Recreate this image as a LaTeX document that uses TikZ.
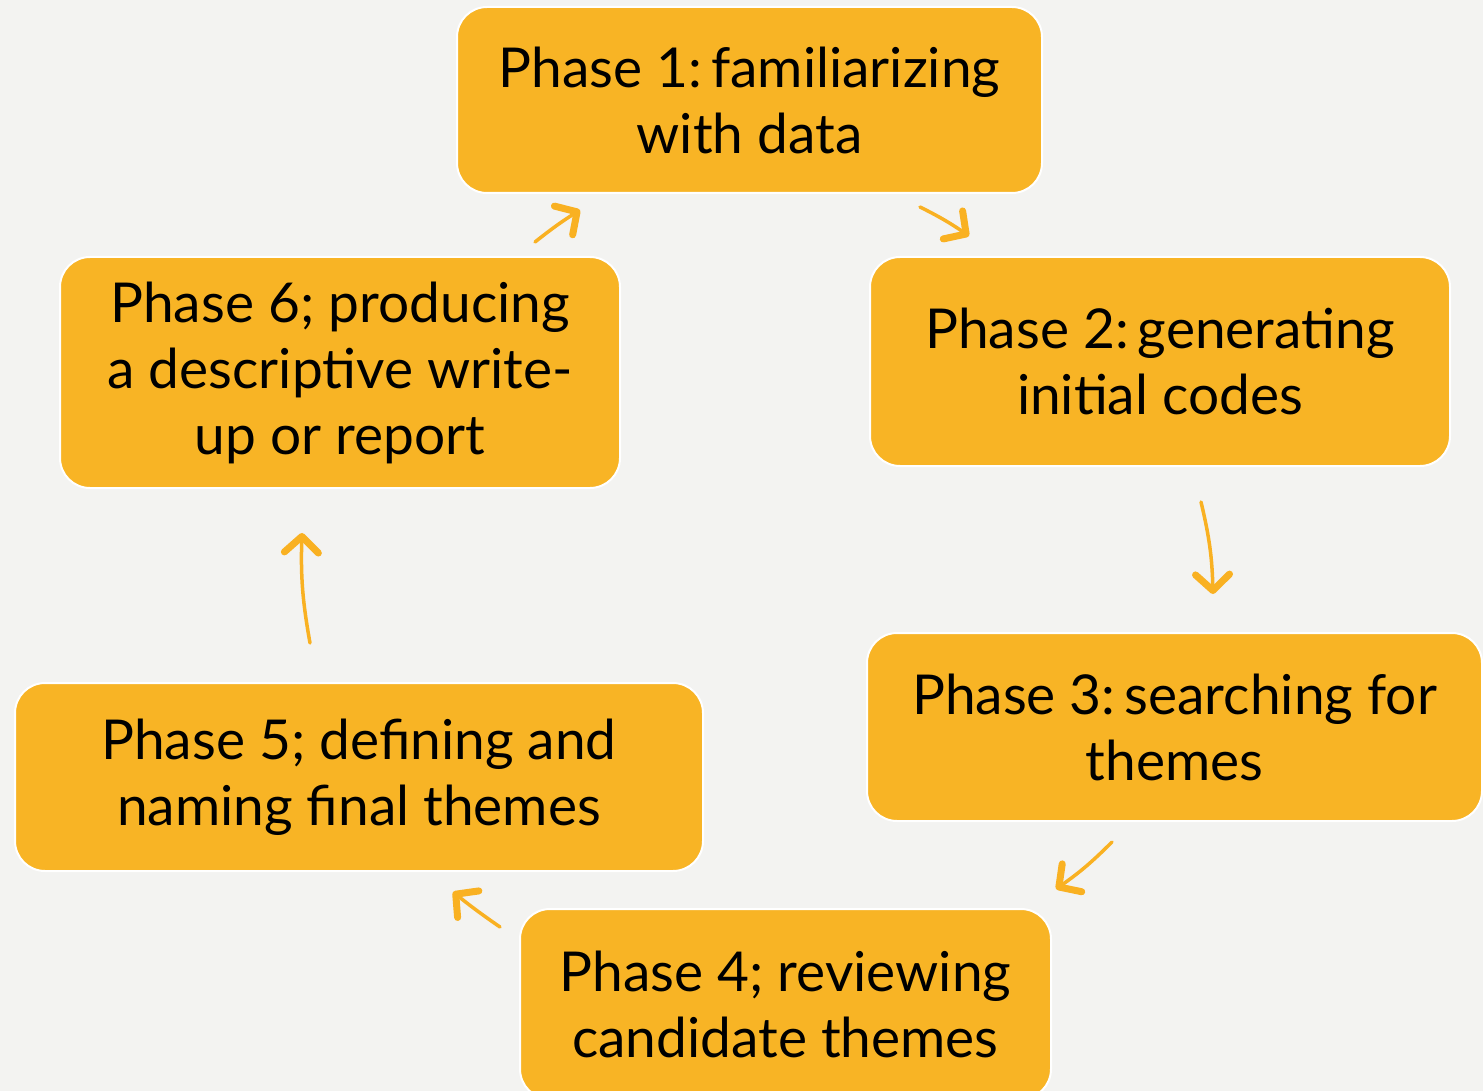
\documentclass[tikz,border=0pt]{standalone}
\usepackage{fontspec}
\setmainfont{Lato}
\usetikzlibrary{arrows.meta}
\definecolor{bg}{HTML}{F3F3F1}
\definecolor{boxfill}{HTML}{F8B425}
\definecolor{arrowc}{HTML}{F9B122}
\tikzset{
  phasebox/.style={draw=white, line width=2pt, fill=boxfill, rounded corners=30pt,
    inner sep=0pt, align=center, font=\fontsize{55}{66}\selectfont, text=black},
  cyclearrow/.style={draw=arrowc, line width=3.5pt, line cap=round,
    -{Straight Barb[length=16pt, width=34pt, line width=7pt, round]}}
}
\begin{document}
\begin{tikzpicture}[x=1pt,y=-1pt]
\fill[bg] (0,0) rectangle (1483,1091);
\useasboundingbox (0,0) rectangle (1483,1091);
\node[phasebox, minimum width=585pt, minimum height=186pt] (p1) at (749.5,100) {Phase 1:\,familiarizing\\with data};
\node[phasebox, minimum width=580pt, minimum height=209pt] (p2) at (1160,361.5) {Phase 2:\,generating\\initial codes};
\node[phasebox, minimum width=615pt, minimum height=188pt] (p3) at (1174.5,727) {Phase 3:\,searching for\\themes};
\node[phasebox, minimum width=531pt, minimum height=190pt] (p4) at (785.5,1004) {Phase 4; reviewing\\candidate themes};
\node[phasebox, minimum width=688pt, minimum height=188pt] (p5) at (359,777) {Phase 5; defining and\\naming final themes};
\node[phasebox, minimum width=560pt, minimum height=231pt] (p6) at (340,372.5) {Phase 6; producing\\a descriptive write-\\up or report};
\coordinate (a1s) at (535,242); \coordinate (a1e) at (580,210);
\coordinate (a2s) at (920,207); \coordinate (a2e) at (969,236);
\coordinate (a3s) at (1201,502); \coordinate (a3e) at (1213,594);
\coordinate (a4s) at (1112,842); \coordinate (a4e) at (1056,889);
\coordinate (a5s) at (500,927); \coordinate (a5e) at (453,892);
\coordinate (a6s) at (310,643); \coordinate (a6e) at (302,533);
\draw[cyclearrow] (a1s) to[bend left=3] (a1e);
\draw[cyclearrow] (a2s) to[bend left=4] (a2e);
\draw[cyclearrow] (a3s) to[bend left=6] (a3e);
\draw[cyclearrow] (a4s) to[bend left=5] (a4e);
\draw[cyclearrow] (a5s) to[bend left=2] (a5e);
\draw[cyclearrow] (a6s) to[bend left=6] (a6e);
\end{tikzpicture}
\end{document}
